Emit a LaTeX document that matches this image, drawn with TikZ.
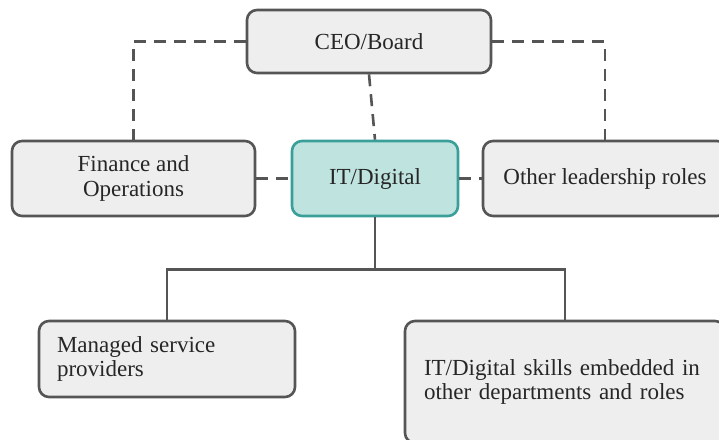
\documentclass[tikz,border=0pt]{standalone}
\usepackage{fontspec}
\setmainfont{Liberation Serif}
\usetikzlibrary{positioning}
\definecolor{cinzaborda}{HTML}{555555}
\definecolor{cinzafundo}{HTML}{EEEEEE}
\definecolor{verdeborda}{HTML}{3A9F99}
\definecolor{verdefundo}{HTML}{BFE4DF}
\tikzset{
  caixa/.style={draw=cinzaborda, fill=cinzafundo, line width=2.6, rounded corners=10,
    font=\fontsize{23}{24.5}\selectfont, text=black!85},
  caixati/.style={caixa, draw=verdeborda, fill=verdefundo},
  ligacao/.style={draw=cinzaborda, line width=2.6},
  tracejado/.style={ligacao, dash pattern=on 12 off 8},
}
\begin{document}
\begin{tikzpicture}[x=1pt,y=-1pt] %Início do desenho, y para baixo
  \useasboundingbox (0,0) rectangle (719,439);
	%Caixas
  \node[caixa, minimum width=244, minimum height=63] (ceo) at (369,41.5) {CEO/Board};
  \node[caixa, minimum width=243, minimum height=75, align=center] (fin) at (133.5,178.5) {Finance and\\Operations};
  \node[caixati, minimum width=166, minimum height=75] (ti) at (375,178.5) {IT/Digital};
  \node[caixa, minimum width=244, minimum height=75] (outros) at (605,178.5) {Other leadership roles};
  \node[caixa, minimum width=256, minimum height=76, text width=220, align=left] (msp) at (167,359) {Managed service\\providers};
  \node[caixa, minimum width=320, minimum height=122, text width=282, align=left] (emb) at (565,382) {IT/Digital skills embedded in\\other departments and roles};
	%Ligações tracejadas
  \draw[tracejado] (ceo.west) -| (fin.north);
  \draw[tracejado] (ceo.east) -| (outros.north);
  \draw[tracejado] (ceo.south) -- (ti.north);
  \draw[tracejado] (fin.east) -- (ti.west);
  \draw[tracejado] (ti.east) -- (outros.west);
	%Ligações contínuas
  \coordinate (barra) at ([yshift=-52]ti.south);
  \draw[ligacao] (ti.south) -- (barra);
  \draw[ligacao] (barra) -| (msp.north);
  \draw[ligacao] (barra) -| (emb.north);
\end{tikzpicture}
\end{document}
